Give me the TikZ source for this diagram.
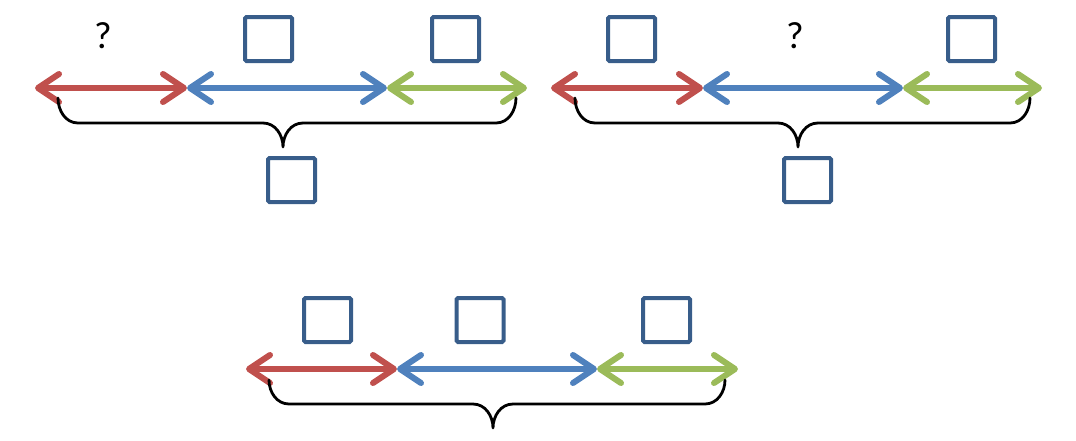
\documentclass[tikz,border=0pt]{standalone}
\usepackage{fontspec}
\setmainfont{Carlito}
\usetikzlibrary{arrows.meta}
\definecolor{cred}{HTML}{C0504D}
\definecolor{cblue}{HTML}{4F81BD}
\definecolor{cgreen}{HTML}{9BBB59}
\definecolor{cbox}{HTML}{385D8A}
\begin{document}
\begin{tikzpicture}[x=1pt,y=-1pt,
  seg/.style={line width=6pt, {Straight Barb[length=21pt,width=28pt,round]}-{Straight Barb[length=21pt,width=28pt,round]}},
  sq/.style={draw=cbox, line width=4pt, rounded corners=1.5pt, minimum width=47pt, minimum height=44pt, inner sep=0pt},
  qm/.style={font=\fontsize{38}{38}\selectfont, inner sep=0pt},
  brace/.style={draw=black, line width=2.8pt, line cap=round}]
\useasboundingbox (0,0) rectangle (1076,440);
% group 1
\coordinate (a0) at (35,88); \coordinate (a1) at (187,88); \coordinate (a2) at (387,88); \coordinate (a3) at (527,88);
\draw[seg, cred] (a0) -- (a1);
\draw[seg, cblue] (a1) -- (a2);
\draw[seg, cgreen] (a2) -- (a3);
\node[qm] (q1) at (103,36) {?};
\node[sq] (s1) at (268.5,39) {};
\node[sq] (s2) at (455.5,39) {};
\node[sq] (s3) at (291.5,180) {};
\coordinate (b1l) at (58,98); \coordinate (b1r) at (516,98); \coordinate (b1t) at (283,147);
\draw[brace] (b1l) to[out=-90,in=180] (78,123) -- (263,123) to[out=0,in=90] (b1t)
  (b1t) to[out=90,in=180] (303,123) -- (496,123) to[out=0,in=-90] (b1r);
% group 2
\coordinate (c0) at (551,88); \coordinate (c1) at (703,88); \coordinate (c2) at (903,88); \coordinate (c3) at (1042,88);
\draw[seg, cred] (c0) -- (c1);
\draw[seg, cblue] (c1) -- (c2);
\draw[seg, cgreen] (c2) -- (c3);
\node[sq] (s4) at (631.5,39) {};
\node[qm] (q2) at (795,36) {?};
\node[sq] (s5) at (971.5,39) {};
\node[sq] (s6) at (807.5,180) {};
\coordinate (b2l) at (575,98); \coordinate (b2r) at (1030,98); \coordinate (b2t) at (798,147);
\draw[brace] (b2l) to[out=-90,in=180] (595,123) -- (778,123) to[out=0,in=90] (b2t)
  (b2t) to[out=90,in=180] (818,123) -- (1010,123) to[out=0,in=-90] (b2r);
% group 3
\coordinate (d0) at (246,369); \coordinate (d1) at (397,369); \coordinate (d2) at (597,369); \coordinate (d3) at (738,369);
\draw[seg, cred] (d0) -- (d1);
\draw[seg, cblue] (d1) -- (d2);
\draw[seg, cgreen] (d2) -- (d3);
\node[sq] (s7) at (327.5,320) {};
\node[sq] (s8) at (480,320) {};
\node[sq] (s9) at (666.5,320) {};
\coordinate (b3l) at (269,380); \coordinate (b3r) at (725,380); \coordinate (b3t) at (493,428);
\draw[brace] (b3l) to[out=-90,in=180] (289,404) -- (473,404) to[out=0,in=90] (b3t)
  (b3t) to[out=90,in=180] (513,404) -- (705,404) to[out=0,in=-90] (b3r);
\end{tikzpicture}
\end{document}
